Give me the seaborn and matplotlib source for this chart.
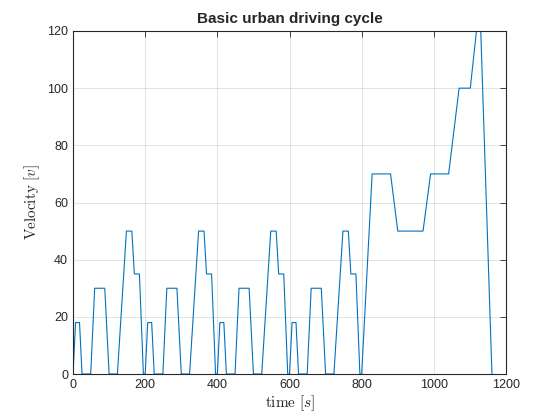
import matplotlib
matplotlib.use("Agg")
import matplotlib.pyplot as plt
import seaborn as sns
import pandas as pd

# Breakpoints of the driving cycle (time in s, velocity)
time_s = [0, 7, 18, 25, 49, 60, 88, 100, 123, 148, 163, 170, 184, 195,
          200, 207, 218, 225, 249, 260, 288, 300, 323, 348, 363, 370, 384, 395,
          400, 407, 418, 425, 449, 460, 488, 500, 523, 548, 563, 570, 584, 595,
          600, 607, 618, 625, 649, 660, 688, 700, 723, 748, 763, 770, 784, 795,
          800, 829, 880, 900, 970, 991, 1041, 1070, 1101, 1118, 1130, 1161]
velocity = [0, 18, 18, 0, 0, 30, 30, 0, 0, 50, 50, 35, 35, 0,
            0, 18, 18, 0, 0, 30, 30, 0, 0, 50, 50, 35, 35, 0,
            0, 18, 18, 0, 0, 30, 30, 0, 0, 50, 50, 35, 35, 0,
            0, 18, 18, 0, 0, 30, 30, 0, 0, 50, 50, 35, 35, 0,
            0, 70, 70, 50, 50, 70, 70, 100, 100, 120, 120, 0]

x_ticks = [0, 200, 400, 600, 800, 1000, 1200]
y_ticks = [0, 20, 40, 60, 80, 100, 120]

sns.set_style("white")
plt.rcParams['font.family'] = ['Liberation Sans', 'DejaVu Sans']
plt.rcParams['mathtext.fontset'] = 'cm'

df = pd.DataFrame({"t": time_s, "v": velocity})

fig = plt.figure(figsize=(5.6, 4.2), dpi=100)
ax = fig.add_axes([0.1304, 0.1095, 0.7732, 0.8167])
sns.lineplot(data=df, x="t", y="v", ax=ax, color="#0072BD", linewidth=0.8,
             sort=False, estimator=None)

ax.set_xlim(0, 1200)
ax.set_ylim(0, 120)
ax.set_xticks(x_ticks)
ax.set_yticks(y_ticks)
ax.grid(True, color="#262626", alpha=0.15, linewidth=0.6)
ax.set_axisbelow(True)
for s in ax.spines.values():
    s.set_visible(True)
    s.set_color("#262626")
    s.set_linewidth(0.8)
ax.tick_params(direction="in", length=4, width=0.6, colors="#262626",
               labelsize=9, top=True, right=True, labelcolor="#262626")
ax.set_title("Basic urban driving cycle", fontsize=11, fontweight="bold", pad=6)
ax.set_xlabel(r"$\mathrm{time}\ [s]$", fontsize=11, color="#262626", labelpad=2)
ax.set_ylabel(r"$\mathrm{Velocity}\ [v]$", fontsize=11, color="#262626", labelpad=4)

fig.savefig("out.png", dpi=100)
